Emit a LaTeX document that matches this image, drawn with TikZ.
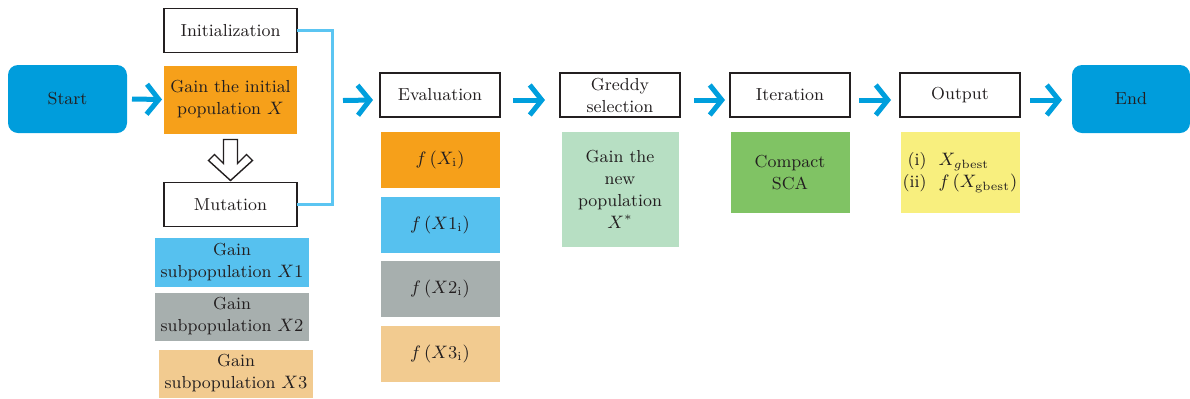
\documentclass[tikz,border=0pt]{standalone}
\usepackage{tikz}
\usetikzlibrary{positioning,calc,arrows.meta}
\usepackage{amsmath}

\definecolor{txt}{HTML}{231F20}
\definecolor{termblue}{HTML}{009DDC}
\definecolor{arrowblue}{HTML}{009FDD}
\definecolor{lineblue}{HTML}{5BC5F2}
\definecolor{orangefill}{HTML}{F6A01A}
\definecolor{skyfill}{HTML}{56C1EF}
\definecolor{greyfill}{HTML}{A7AFAE}
\definecolor{tanfill}{HTML}{F2CB90}
\definecolor{mintfill}{HTML}{B7DFC3}
\definecolor{greenfill}{HTML}{80C364}
\definecolor{yellowfill}{HTML}{F8EF7E}

\tikzset{
  base/.style={outer sep=0pt, inner sep=1pt, align=center, text=txt,
    font=\fontsize{8.7}{11}\selectfont},
  stepbox/.style={base, draw=txt, line width=0.6pt, fill=white,
    minimum width=60pt, minimum height=22pt},
  colbox/.style={base, fill=#1, minimum width=59.5pt, minimum height=28pt},
  term/.style={base, fill=termblue, rounded corners=5pt,
    minimum width=59.5pt, minimum height=34pt},
  flow/.style={draw=arrowblue, line width=2.5pt,
    -{Straight Barb[length=6pt,width=15pt]}},
  bracket/.style={draw=lineblue, line width=1.5pt},
  hollow/.style={draw=txt, line width=0.7pt, fill=white}
}

\begin{document}
\begin{tikzpicture}[x=0.5pt,y=-0.5pt]
\useasboundingbox (0,0) rectangle (1190,398);

% --- Start
\node[term] (start) at (67.5,99) {Start};

% --- Initialization column
\node[stepbox, minimum width=66.5pt] (init) at (230.5,30.5) {Initialization};
\node[colbox=orangefill, minimum width=66.5pt, minimum height=34pt,
  below=6.5pt of init] (gain) {Gain the initial\\population $X$};
\node[stepbox, minimum width=66.5pt, below=24.5pt of gain] (mut) {Mutation};
\draw[hollow, shift={(gain.south)}] (-7,6) -- (7,6) -- (7,30) -- (16,21)
  -- (22,27) -- (0,47) -- (-22,27) -- (-16,21) -- (-7,30) -- cycle;

% --- Subpopulations
\node[colbox=skyfill, minimum width=77pt, minimum height=24.5pt,
  below=5.5pt of mut, xshift=0.75pt] (sub1) {Gain\\subpopulation $X1$};
\node[colbox=greyfill, minimum width=77pt, minimum height=24pt,
  below=3pt of sub1] (sub2) {Gain\\subpopulation $X2$};
\node[colbox=tanfill, minimum width=77pt, minimum height=24pt,
  below=4.5pt of sub2, xshift=2pt] (sub3) {Gain\\subpopulation $X3$};

% --- Bracket joining initialization and mutation
\draw[bracket] (init.east) -- ++(35,0) coordinate (brtop) |- (mut.east);

% --- Evaluation
\node[stepbox] (eval) at (440,95) {Evaluation};
\node[colbox=orangefill, below=7.5pt of eval] (fx) {$f\,(X_{\mathrm{i}})$};
\node[colbox=skyfill, below=4.5pt of fx] (fx1) {$f\,(X1_{\mathrm{i}})$};
\node[colbox=greyfill, below=4pt of fx1] (fx2) {$f\,(X2_{\mathrm{i}})$};
\node[colbox=tanfill, below=4.5pt of fx2] (fx3) {$f\,(X3_{\mathrm{i}})$};

% --- Greedy selection
\node[stepbox] (greedy) at (620,95) {Greddy\\selection};
\node[colbox=mintfill, minimum width=58.5pt, minimum height=57.5pt,
  below=7.5pt of greedy] (newpop) {Gain the\\new\\population\\$X^{*}$};

% --- Iteration
\node[stepbox] (iter) at (790,95) {Iteration};
\node[colbox=greenfill, minimum height=40.5pt, below=7.5pt of iter] (sca)
  {Compact\\SCA};

% --- Output
\node[stepbox] (out) at (960,95) {Output};
\node[colbox=yellowfill, minimum height=40.5pt, below=7.5pt of out] (res)
  {\begin{tabular}{@{}r@{\ \ }l@{}}
  (i) & $X_{g\mathrm{best}}$\\
  (ii) & $f\,(X_{\mathrm{gbest}})$
  \end{tabular}};

% --- End
\node[term, minimum width=59pt] (end) at (1131,99) {End};

% --- Flow arrows
\draw[flow] ($(start.east)+(5,0)$) -- ($(gain.west)+(-2,0)$);
\draw[flow] ($(brtop |- gain.east)+(11,1)$) -- ($(eval.west)+(-7,5)$);
\draw[flow] ($(eval.east)+(13,5)$) -- ($(greedy.west)+(-15,5)$);
\draw[flow] ($(greedy.east)+(14,5)$) -- ($(iter.west)+(-5,5)$);
\draw[flow] ($(iter.east)+(9,5)$) -- ($(out.west)+(-9,5)$);
\draw[flow] ($(out.east)+(10,5)$) -- ($(end.west)+(-10,1)$);

\end{tikzpicture}
\end{document}
